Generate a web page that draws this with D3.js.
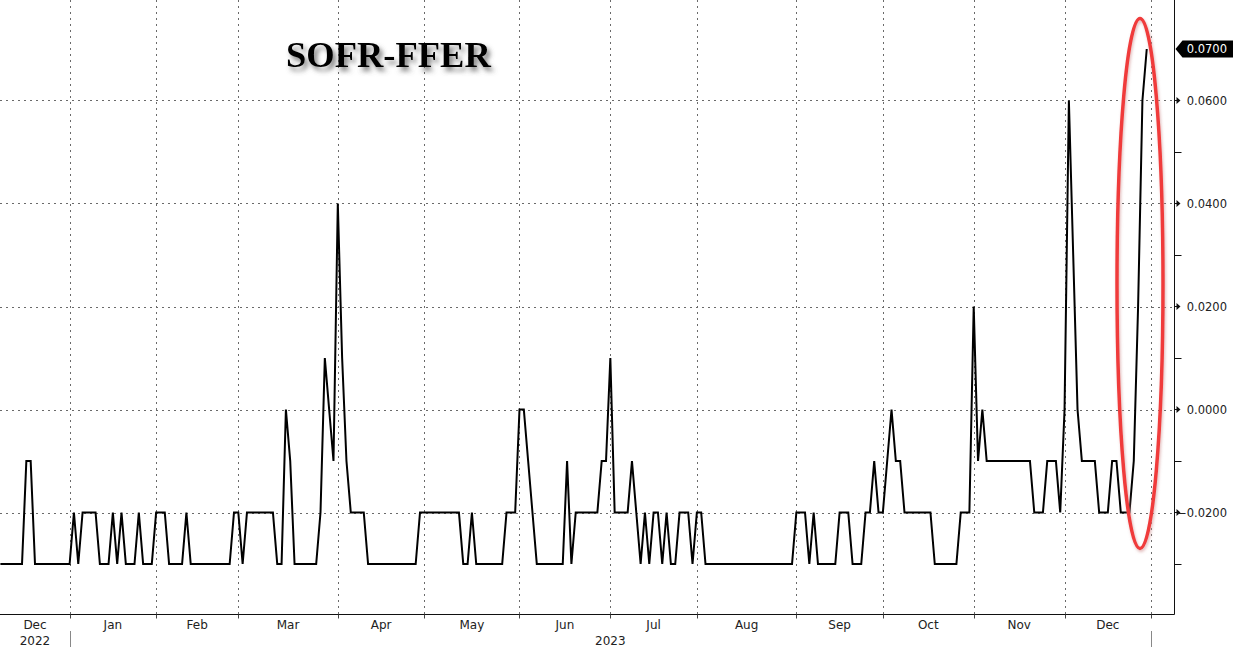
<!DOCTYPE html>
<html>
<head>
<meta charset="utf-8">
<script src="https://cdnjs.cloudflare.com/ajax/libs/d3/7.8.5/d3.min.js"></script>
<style>
  html, body { margin: 0; padding: 0; background: #ffffff; }
  svg { display: block; }
</style>
</head>
<body>
<svg id="chart" width="1233" height="647"></svg>
<script>
// ---------------- DATA (SOFR minus FFER, one value per business day) ----------------
const titleText = "SOFR-FFER";
const monthLabels = ["Dec", "Jan", "Feb", "Mar", "Apr", "May", "Jun", "Jul", "Aug", "Sep", "Oct", "Nov", "Dec"];
const yearLabels = ["2022", "2023"];
const yTickValues = [0.06, 0.04, 0.02, 0.00, -0.02];
const yMinorTickValues = [0.05, 0.03, 0.01, -0.01, -0.03];
const lastValueLabel = "0.0700";

const dec2022 = [-0.03, -0.03, -0.03, -0.03, -0.03, -0.03, -0.01, -0.01, -0.03, -0.03, -0.03, -0.03, -0.03, -0.03, -0.03, -0.03];
const jan2023 = [-0.03, -0.02, -0.03, -0.02, -0.02, -0.02, -0.02, -0.03, -0.03, -0.03, -0.02, -0.03, -0.02, -0.03, -0.03, -0.03, -0.02, -0.03, -0.03, -0.03];
const feb2023 = [-0.02, -0.02, -0.02, -0.03, -0.03, -0.03, -0.03, -0.02, -0.03, -0.03, -0.03, -0.03, -0.03, -0.03, -0.03, -0.03, -0.03, -0.03, -0.02];
const mar2023 = [-0.02, -0.03, -0.02, -0.02, -0.02, -0.02, -0.02, -0.02, -0.02, -0.03, -0.03, 0.00, -0.01, -0.03, -0.03, -0.03, -0.03, -0.03, -0.03, -0.02, 0.01, 0.00, -0.01];
const apr2023 = [0.04, 0.01, -0.01, -0.02, -0.02, -0.02, -0.02, -0.03, -0.03, -0.03, -0.03, -0.03, -0.03, -0.03, -0.03, -0.03, -0.03, -0.03, -0.03, -0.02];
const may2023 = [-0.02, -0.02, -0.02, -0.02, -0.02, -0.02, -0.02, -0.02, -0.02, -0.03, -0.03, -0.02, -0.03, -0.03, -0.03, -0.03, -0.03, -0.03, -0.03, -0.02, -0.02, -0.02];
const jun2023 = [0.00, 0.00, -0.01, -0.02, -0.03, -0.03, -0.03, -0.03, -0.03, -0.03, -0.03, -0.01, -0.03, -0.02, -0.02, -0.02, -0.02, -0.02, -0.02, -0.01, -0.01];
const jul2023 = [0.01, -0.02, -0.02, -0.02, -0.02, -0.01, -0.02, -0.03, -0.02, -0.03, -0.02, -0.02, -0.03, -0.02, -0.03, -0.03, -0.02, -0.02, -0.02, -0.03];
const aug2023 = [-0.02, -0.02, -0.03, -0.03, -0.03, -0.03, -0.03, -0.03, -0.03, -0.03, -0.03, -0.03, -0.03, -0.03, -0.03, -0.03, -0.03, -0.03, -0.03, -0.03, -0.03, -0.03, -0.03];
const sep2023 = [-0.02, -0.02, -0.02, -0.03, -0.02, -0.03, -0.03, -0.03, -0.03, -0.03, -0.02, -0.02, -0.02, -0.03, -0.03, -0.03, -0.02, -0.02, -0.01, -0.02];
const oct2023 = [-0.02, -0.01, 0.00, -0.01, -0.01, -0.02, -0.02, -0.02, -0.02, -0.02, -0.02, -0.02, -0.03, -0.03, -0.03, -0.03, -0.03, -0.03, -0.02, -0.02, -0.02];
const nov2023 = [0.02, -0.01, 0.00, -0.01, -0.01, -0.01, -0.01, -0.01, -0.01, -0.01, -0.01, -0.01, -0.01, -0.01, -0.02, -0.02, -0.02, -0.01, -0.01, -0.01, -0.02];
const dec2023 = [0.00, 0.06, 0.03, 0.00, -0.01, -0.01, -0.01, -0.01, -0.02, -0.02, -0.02, -0.01, -0.01, -0.02, -0.02, -0.02, -0.01, 0.02, 0.06, 0.07];

const monthSeries = [dec2022, jan2023, feb2023, mar2023, apr2023, may2023, jun2023, jul2023, aug2023, sep2023, oct2023, nov2023, dec2023];

// ---------------- BUILD POINTS (business-day index, 0 = first day of 2023) ----------------
const points = [];
const monthStarts = [];
let idx = -dec2022.length;
monthSeries.forEach((arr) => {
  monthStarts.push(idx);
  arr.forEach(v => { points.push({ i: idx, v: v }); idx += 1; });
});
const endIndex = idx; // first index after the data (Jan 2024 boundary)

// ---------------- LAYOUT ----------------
const W = 1233, H = 647;
const plotRight = 1174.5;
const axisY = 614.5;

const svg = d3.select("#chart");

const x = d3.scaleLinear().domain([-16.09, 255.3]).range([0, 1174]);
const y = d3.scaleLinear().domain([-0.04, 0.08]).range([615.5, -2.5]);

const defs = svg.append("defs");
const shadow = defs.append("filter").attr("id", "titleShadow")
  .attr("x", "-20%").attr("y", "-40%").attr("width", "140%").attr("height", "180%");
shadow.append("feDropShadow").attr("dx", 3).attr("dy", 4).attr("stdDeviation", 2.6)
  .attr("flood-color", "#555").attr("flood-opacity", 0.75);

const ellShadow = defs.append("filter").attr("id", "ellShadow")
  .attr("x", "-50%").attr("y", "-10%").attr("width", "200%").attr("height", "120%");
ellShadow.append("feDropShadow").attr("dx", 1).attr("dy", 2).attr("stdDeviation", 1.5)
  .attr("flood-color", "#c88").attr("flood-opacity", 0.6);

defs.append("clipPath").attr("id", "plotClip")
  .append("rect").attr("x", 0).attr("y", 0).attr("width", 1174).attr("height", axisY);

// ---------------- GRID ----------------
const grid = svg.append("g").attr("class", "grid");
grid.selectAll("line.h").data(yTickValues).enter().append("line")
  .attr("class", "h")
  .attr("x1", 0).attr("x2", plotRight - 0.5)
  .attr("y1", d => Math.round(y(d)) + 0.5).attr("y2", d => Math.round(y(d)) + 0.5)
  .attr("stroke", "#6a6a6a").attr("stroke-width", 1).attr("stroke-dasharray", "2,4");

const boundaries = monthStarts.slice(1).concat([endIndex]);
grid.selectAll("line.v").data(boundaries).enter().append("line")
  .attr("class", "v")
  .attr("x1", d => Math.round(x(d)) + 0.5).attr("x2", d => Math.round(x(d)) + 0.5)
  .attr("y1", 0).attr("y2", axisY)
  .attr("stroke", "#6a6a6a").attr("stroke-width", 1).attr("stroke-dasharray", "2,4");

// ---------------- AXES ----------------
svg.append("line").attr("x1", 0).attr("x2", plotRight).attr("y1", axisY).attr("y2", axisY)
  .attr("stroke", "#111").attr("stroke-width", 1);
svg.append("line").attr("x1", plotRight).attr("x2", plotRight).attr("y1", 0).attr("y2", axisY)
  .attr("stroke", "#111").attr("stroke-width", 1);

// x ticks under axis
svg.selectAll("line.xt").data(boundaries).enter().append("line")
  .attr("class", "xt")
  .attr("x1", d => Math.round(x(d)) + 0.5).attr("x2", d => Math.round(x(d)) + 0.5)
  .attr("y1", axisY).attr("y2", axisY + 4)
  .attr("stroke", "#444").attr("stroke-width", 1);

// month labels centred in each month span
const monthSpans = monthStarts.map((s, k) => {
  const e = k + 1 < monthStarts.length ? monthStarts[k + 1] : endIndex;
  const left = Math.max(x(s), 0);
  return { label: monthLabels[k], cx: (left + x(e)) / 2 };
});
svg.selectAll("text.month").data(monthSpans).enter().append("text")
  .attr("class", "month")
  .attr("x", d => d.cx).attr("y", 629)
  .attr("text-anchor", "middle")
  .attr("font-family", "DejaVu Sans, sans-serif").attr("font-size", 12)
  .attr("fill", "#222")
  .text(d => d.label);

// year labels
const yearSpans = [
  { label: yearLabels[0], cx: (Math.max(x(monthStarts[0]), 0) + x(monthStarts[1])) / 2 },
  { label: yearLabels[1], cx: (x(monthStarts[1]) + x(endIndex)) / 2 }
];
svg.selectAll("text.year").data(yearSpans).enter().append("text")
  .attr("class", "year")
  .attr("x", d => d.cx).attr("y", 645)
  .attr("text-anchor", "middle")
  .attr("font-family", "DejaVu Sans, sans-serif").attr("font-size", 12)
  .attr("fill", "#222")
  .text(d => d.label);
// year separators
svg.selectAll("line.ysep").data([monthStarts[1], endIndex]).enter().append("line")
  .attr("class", "ysep")
  .attr("x1", d => Math.round(x(d)) + 0.5).attr("x2", d => Math.round(x(d)) + 0.5)
  .attr("y1", 631).attr("y2", 647)
  .attr("stroke", "#888").attr("stroke-width", 1);

// y axis: minor ticks
svg.selectAll("line.ym").data(yMinorTickValues).enter().append("line")
  .attr("class", "ym")
  .attr("x1", plotRight).attr("x2", plotRight + 7)
  .attr("y1", d => Math.round(y(d)) + 0.5).attr("y2", d => Math.round(y(d)) + 0.5)
  .attr("stroke", "#111").attr("stroke-width", 1);

// y axis: major tick markers (small triangles) and labels
svg.selectAll("path.ytri").data(yTickValues).enter().append("path")
  .attr("class", "ytri")
  .attr("d", d => {
    const yy = y(d);
    return `M${plotRight},${yy - 0.5}L${plotRight + 2},${yy - 0.5}L${plotRight + 2},${yy - 3.5}L${plotRight + 6},${yy}L${plotRight + 2},${yy + 3.5}L${plotRight + 2},${yy + 0.5}L${plotRight},${yy + 0.5}Z`;
  })
  .attr("fill", "#111");

svg.selectAll("text.ylab").data(yTickValues).enter().append("text")
  .attr("class", "ylab")
  .attr("x", 1227).attr("y", d => y(d) + 4.3)
  .attr("text-anchor", "end")
  .attr("font-family", "DejaVu Sans, sans-serif").attr("font-size", 11.5)
  .attr("fill", "#222")
  .text(d => d3.format(".4f")(d));

// ---------------- LINE ----------------
const line = d3.line().x(d => x(d.i)).y(d => y(d.v));
svg.append("path")
  .datum(points)
  .attr("clip-path", "url(#plotClip)")
  .attr("d", line)
  .attr("fill", "none")
  .attr("stroke", "#000")
  .attr("stroke-width", 2)
  .attr("stroke-linejoin", "miter");

// ---------------- LAST VALUE TAG ----------------
const last = points[points.length - 1];
const ty = y(last.v);
svg.append("path")
  .attr("d", `M${plotRight + 1},${ty}L${plotRight + 8},${ty - 8.5}L${W},${ty - 8.5}L${W},${ty + 8.5}L${plotRight + 8},${ty + 8.5}Z`)
  .attr("fill", "#000");
svg.append("text")
  .attr("x", 1227).attr("y", ty + 4.3)
  .attr("text-anchor", "end")
  .attr("font-family", "DejaVu Sans, sans-serif").attr("font-size", 11.5)
  .attr("fill", "#fff")
  .text(lastValueLabel);

// ---------------- TITLE ----------------
svg.append("text")
  .attr("x", 286).attr("y", 67)
  .attr("font-family", "Liberation Serif, Times New Roman, serif")
  .attr("font-weight", "bold").attr("font-size", 36.5)
  .attr("fill", "#000")
  .attr("filter", "url(#titleShadow)")
  .text(titleText);

// ---------------- HIGHLIGHT ELLIPSE ----------------
svg.append("ellipse")
  .attr("cx", 1140).attr("cy", 283.5).attr("rx", 23).attr("ry", 265)
  .attr("fill", "none")
  .attr("stroke", "#f03a3a").attr("stroke-width", 3.5)
  .attr("filter", "url(#ellShadow)");
</script>
</body>
</html>
